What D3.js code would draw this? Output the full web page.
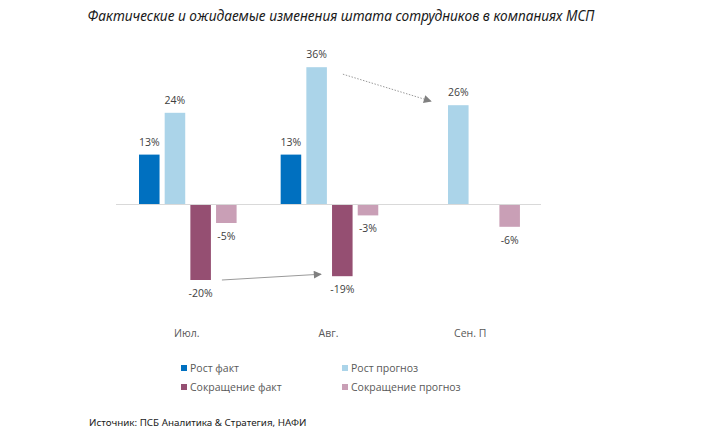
<!DOCTYPE html>
<html>
<head>
<meta charset="utf-8">
<script src="https://cdn.jsdelivr.net/npm/d3@7"></script>
<style>
  body { margin: 0; background: #fff; }
  svg { display: block; }
</style>
</head>
<body>
<div id="chart"></div>
<script>
const categories = ['Июл.', 'Авг.', 'Сен. П'];
const seriesNames = ['Рост факт', 'Рост прогноз', 'Сокращение факт', 'Сокращение прогноз'];
const growthFact = [13, 13, null];
const growthForecast = [24, 36, 26];
const cutFact = [-20, -19, null];
const cutForecast = [-5, -3, -6];
const seriesValues = [growthFact, growthForecast, cutFact, cutForecast];
const COLORS = ['#0070c0', '#abd4e9', '#954f72', '#c99fb6'];

const W = 713, H = 440;
const svg = d3.select('#chart').append('svg').attr('width', W).attr('height', H);

const x0 = d3.scaleBand().domain(categories).range([116, 541]);
const x1 = d3.scaleBand().domain(seriesNames).range([23, 120.6]).paddingInner(0.2);
const y = d3.scaleLinear().domain([-25, 40]).range([299, 52]);

// title
svg.append('text')
  .attr('x', 341).attr('y', 21)
  .attr('text-anchor', 'middle')
  .attr('font-family', 'Noto Sans')
  .attr('font-style', 'italic')
  .attr('font-size', 14)
  .attr('textLength', 507)
  .attr('lengthAdjust', 'spacingAndGlyphs')
  .attr('fill', '#1a1a1a')
  .text('Фактические и ожидаемые изменения штата сотрудников в компаниях МСП');

const rows = [];
categories.forEach((c, i) => {
  seriesNames.forEach((s, j) => {
    const v = seriesValues[j][i];
    if (v !== null) rows.push({ cat: c, series: s, idx: j, value: v });
  });
});

const g = svg.append('g');
g.selectAll('rect.bar')
  .data(rows)
  .join('rect')
  .attr('class', 'bar')
  .attr('x', d => x0(d.cat) + x1(d.series))
  .attr('y', d => y(Math.max(0, d.value)))
  .attr('width', x1.bandwidth())
  .attr('height', d => Math.abs(y(d.value) - y(0)))
  .attr('fill', d => COLORS[d.idx]);

// zero line
g.append('line')
  .attr('x1', x0.range()[0]).attr('x2', x0.range()[1])
  .attr('y1', y(0) + 0.5).attr('y2', y(0) + 0.5)
  .attr('stroke', '#d9d9d9').attr('stroke-width', 1);

// value labels
g.selectAll('text.val')
  .data(rows)
  .join('text')
  .attr('class', 'val')
  .attr('x', d => x0(d.cat) + x1(d.series) + x1.bandwidth() / 2)
  .attr('y', d => d.value >= 0 ? y(d.value) - 9 : y(d.value) + 17)
  .attr('text-anchor', 'middle')
  .attr('font-family', 'Open Sans')
  .attr('font-size', 10.5)
  .attr('fill', '#404040')
  .text(d => d.value + '%');

// category labels
g.selectAll('text.cat')
  .data(categories)
  .join('text')
  .attr('class', 'cat')
  .attr('x', d => x0(d) + x0.bandwidth() / 2)
  .attr('y', 337)
  .attr('text-anchor', 'middle')
  .attr('font-family', 'Open Sans')
  .attr('font-size', 10.5)
  .attr('fill', '#595959')
  .text(d => d);

// arrows
const defs = svg.append('defs');
defs.append('marker')
  .attr('id', 'arr')
  .attr('viewBox', '0 0 10 10')
  .attr('refX', 9).attr('refY', 5)
  .attr('markerWidth', 10).attr('markerHeight', 8)
  .attr('markerUnits', 'userSpaceOnUse')
  .attr('orient', 'auto')
  .append('path').attr('d', 'M0,0L10,5L0,10Z').attr('fill', '#808080');

const bx = (c, s) => x0(c) + x1(s);
const arrows = [
  { x1: bx('Авг.', 'Рост прогноз') + x1.bandwidth() + 16, y1: y(36) + 7,
    x2: bx('Сен. П', 'Рост прогноз') - 17, y2: y(26) - 4, dash: '1.5,1.5' },
  { x1: bx('Июл.', 'Сокращение факт') + x1.bandwidth() + 11, y1: y(-20),
    x2: bx('Авг.', 'Сокращение факт') - 11, y2: y(-19) - 2, dash: null }
];
svg.selectAll('line.arrow')
  .data(arrows)
  .join('line')
  .attr('class', 'arrow')
  .attr('x1', d => d.x1).attr('y1', d => d.y1)
  .attr('x2', d => d.x2).attr('y2', d => d.y2)
  .attr('stroke', '#9a9a9a')
  .attr('stroke-width', 1)
  .attr('stroke-dasharray', d => d.dash)
  .attr('marker-end', 'url(#arr)');

// legend
const legendPos = [[181, 368], [342, 368], [181, 387], [342, 387]];
const lg = svg.selectAll('g.leg')
  .data(seriesNames)
  .join('g')
  .attr('class', 'leg')
  .attr('transform', (d, i) => `translate(${legendPos[i][0]},${legendPos[i][1]})`);
lg.append('rect')
  .attr('x', 0).attr('y', -3).attr('width', 6).attr('height', 6)
  .attr('fill', (d, i) => COLORS[i]);
lg.append('text')
  .attr('x', 9).attr('y', 4)
  .attr('font-family', 'Open Sans')
  .attr('font-size', 10.5)
  .attr('fill', '#595959')
  .text(d => d);

// source
svg.append('text')
  .attr('x', 89).attr('y', 426)
  .attr('font-family', 'Noto Sans')
  .attr('font-size', 9.8)
  .attr('fill', '#1a1a1a')
  .text('Источник: ПСБ Аналитика & Стратегия, НАФИ');
</script>
</body>
</html>
